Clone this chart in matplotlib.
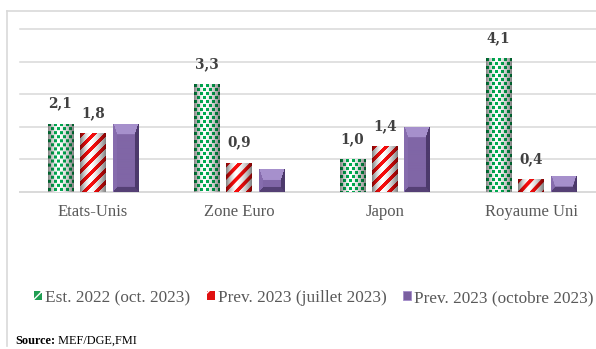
import numpy as np
import matplotlib
matplotlib.use("Agg")
import matplotlib.pyplot as plt
from matplotlib.patches import Patch
from matplotlib.lines import Line2D

# Growth figures (%), one list per series
categories = ["Etats-Unis", "Zone Euro", "Japon", "Royaume Uni"]
est_2022 = [2.1, 3.3, 1.0, 4.1]
prev_2023_juillet = [1.8, 0.9, 1.4, 0.4]
prev_2023_octobre = [2.1, 0.7, 2.0, 0.5]
series_labels = ["Est. 2022 (oct. 2023)", "Prev. 2023 (juillet 2023)",
                 "Prev. 2023 (octobre 2023)"]
grid_values = [1, 2, 3, 4, 5]
labelled = [True, True, False]

W_PX, H_PX, DPI = 596, 349, 100
GRID = "#d9d9d9"

fig = plt.figure(figsize=(W_PX / DPI, H_PX / DPI), dpi=DPI)
ax = fig.add_axes([20 / W_PX, 1 - 192 / H_PX, 576 / W_PX, 163 / H_PX])
ax.set_xlim(-0.5, -0.5 + 576 / 146)
ax.set_ylim(0, 5)
for s in ax.spines.values():
    s.set_visible(False)
ax.set_yticks([])
for g in grid_values:
    ax.axhline(g, color=GRID, lw=1.1, zorder=0, clip_on=False)
ax.axhline(0, color=GRID, lw=1.4, zorder=0, clip_on=False)


def cylinder(W):
    t = (np.arange(W) + 0.5) / W
    d = (t - 0.4) / np.where(t < 0.4, 0.4, 0.6)
    return 1 - 0.5 * np.abs(d) ** 1.6


def dotted_texture(W, H):
    img = np.ones((H, W, 3))
    green = np.array([0.0, 0.68, 0.32])
    rows, cols = np.mgrid[0:H, 0:W]
    band = rows // 4
    shift = (band % 2) * 3
    mask = (((cols + shift) % 6) < 3) & ((rows % 4) < 3)
    img[mask] = green
    return img * cylinder(W)[None, :, None]


def striped_texture(W, H):
    img = np.ones((H, W, 3))
    red = np.array([0.98, 0.05, 0.05])
    rows, cols = np.mgrid[0:H, 0:W]
    mask = ((cols + rows) % 12) < 5
    img[mask] = red
    return np.clip(img * cylinder(W)[None, :, None], 0, 1)


def bevel_texture(W, H):
    rows, cols = np.mgrid[0:H, 0:W]
    face = np.array([0x80, 0x66, 0xa6]) / 255
    top = np.array([0xa6, 0x90, 0xcc]) / 255
    left = np.array([0x86, 0x6c, 0xad]) / 255
    right = np.array([0x4c, 0x39, 0x6b]) / 255
    bottom = np.array([0x55, 0x40, 0x75]) / 255
    bl, br, bt, bb = 4.0, 4.0, 11.0, 5.0
    dist = np.stack([cols / bl, (W - 1 - cols) / br,
                     rows / bt, (H - 1 - rows) / bb])
    idx = np.argmin(dist, axis=0)
    near = dist.min(axis=0) < 1
    img = np.empty((H, W, 3))
    img[:] = face
    for k, c in enumerate([left, right, top, bottom]):
        img[near & (idx == k)] = c
    return img


textures = [dotted_texture, striped_texture, bevel_texture]
series = [est_2022, prev_2023_juillet, prev_2023_octobre]
x = np.arange(len(categories))
width = 26 / 146
step = 32.5 / 146

for k, (vals, tex) in enumerate(zip(series, textures)):
    bars = ax.bar(x + (k - 1) * step, vals, width, color="none",
                  edgecolor="none", zorder=2)
    for bar, v in zip(bars, vals):
        x0, w, h = bar.get_x(), bar.get_width(), bar.get_height()
        p0 = ax.transData.transform((x0, 0))
        p1 = ax.transData.transform((x0 + w, h))
        Wp = max(int(round(p1[0] - p0[0])), 2)
        Hp = max(int(round(p1[1] - p0[1])), 2)
        im = ax.imshow(tex(Wp, Hp), extent=(x0, x0 + w, 0, h),
                       aspect="auto", interpolation="bilinear", zorder=3)
        im.set_clip_path(bar)
        if labelled[k]:
            ax.annotate(f"{v:.1f}".replace(".", ","), (x0 + w / 2, h),
                        xytext=(0, 14.5), textcoords="offset points",
                        ha="center", va="center", fontsize=9.8,
                        fontweight="bold", family="DejaVu Serif",
                        color="#404040")

ax.set_xlim(-0.5, -0.5 + 576 / 146)
ax.set_ylim(0, 5)
ax.set_xticks(x)
ax.set_xticklabels(categories, family="Liberation Serif", fontsize=12,
                   color="#595959")
ax.tick_params(axis="x", length=0, pad=8.5)

handles = [
    Patch(facecolor="#1f9e52", edgecolor="white", hatch="xx", lw=0),
    Patch(facecolor="#e01010", edgecolor="white", hatch="//", lw=0),
    Patch(facecolor="#7a5fa0", edgecolor="#a38ccb", lw=0.6),
]
fig.legend(handles, series_labels, loc="center",
           bbox_to_anchor=(314 / W_PX, 1 - 298 / H_PX), ncol=3,
           frameon=False, handlelength=0.45, handleheight=0.45,
           handletextpad=0.2, columnspacing=0.95, labelcolor="#595959",
           prop={"family": "Liberation Serif", "size": 12.4})

# chart frame
fig.add_artist(Line2D([7 / W_PX, 1], [1 - 11 / H_PX] * 2,
                      transform=fig.transFigure, color=GRID, lw=1.2))
fig.add_artist(Line2D([7 / W_PX] * 2, [1 - 11 / H_PX, 1 - 346 / H_PX],
                      transform=fig.transFigure, color=GRID, lw=1.2))

src = fig.text(15 / W_PX, 1 - 341 / H_PX, "Source:", fontsize=8.8,
               fontweight="bold", family="Liberation Serif", color="black",
               va="center")
plt.annotate(" MEF/DGE,FMI", xy=(1, 0.5), xycoords=src, va="center",
             fontsize=8.8, family="Liberation Serif", color="black")

fig.savefig("out.png", dpi=DPI)
